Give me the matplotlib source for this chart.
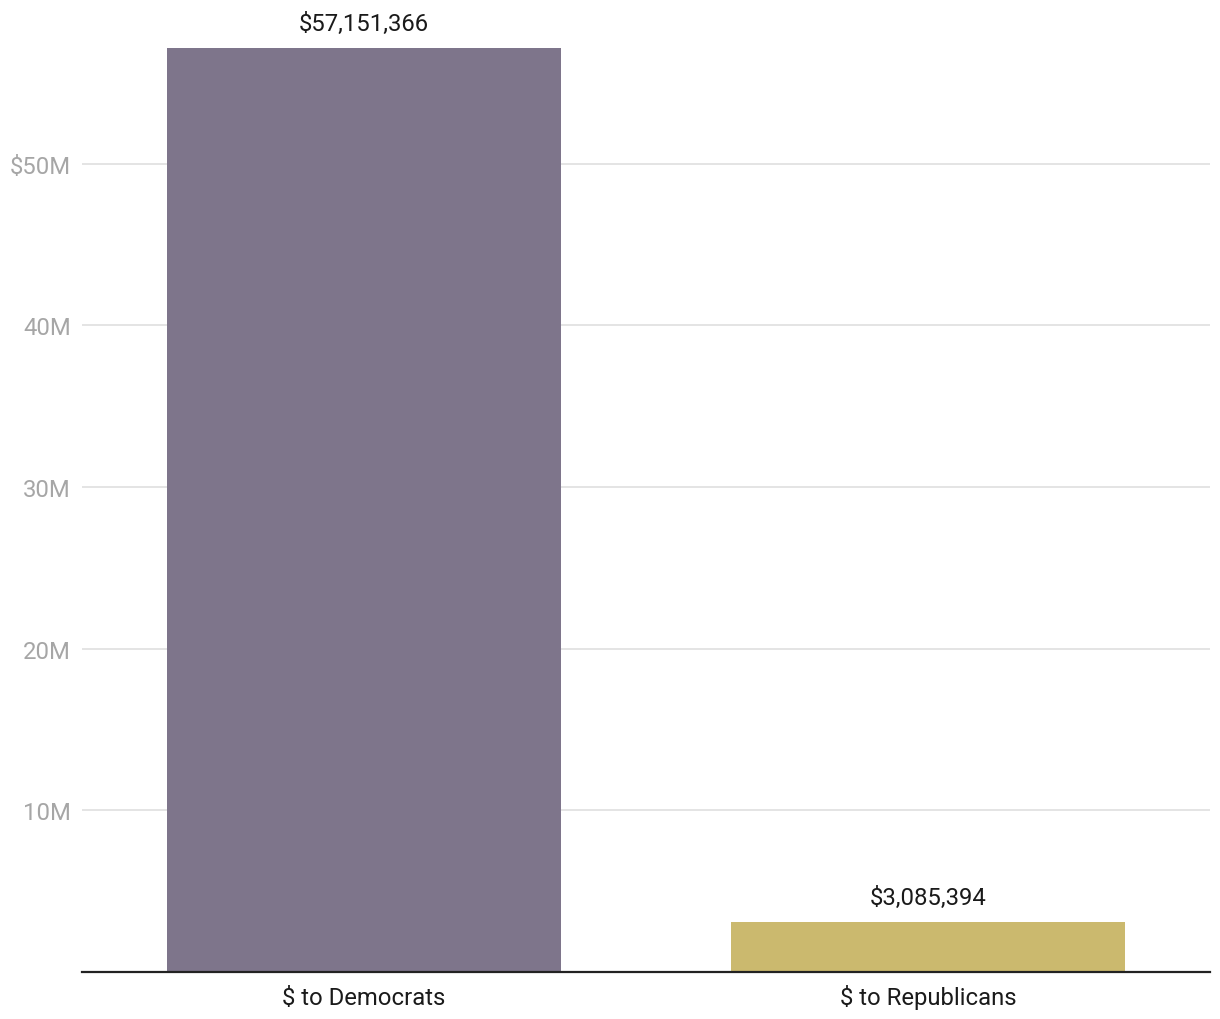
import matplotlib.pyplot as plt

plt.rcParams['font.family'] = ['Roboto', 'DejaVu Sans']

categories = ["$ to Democrats", "$ to Republicans"]
amounts = [57151366, 3085394]
bar_colors = ["#7e758b", "#cbb96e"]
y_ticks = [10e6, 20e6, 30e6, 40e6, 50e6]
y_tick_labels = ["10M", "20M", "30M", "40M", "$50M"]

fig = plt.figure(figsize=(12.2, 10.2), dpi=100)
ax = fig.add_axes([82 / 1220, 47 / 1020, 1128 / 1220, 970 / 1020])

x = range(len(categories))
bars = ax.bar(x, amounts, width=0.7, color=bar_colors, zorder=2)
for b, v in zip(bars, amounts):
    ax.annotate("${:,}".format(v), (b.get_x() + b.get_width() / 2, v),
                xytext=(0, 12.8), textcoords="offset points",
                ha="center", va="baseline", fontsize=17.2, color="#1a1a1a")

# category labels placed by baseline so both line up
for i, name in enumerate(categories):
    ax.annotate(name, xy=(i, 0), xycoords=("data", "axes fraction"),
                xytext=(0, -23.2), textcoords="offset points",
                ha="center", va="baseline", fontsize=17.2, color="#1a1a1a")

ax.set_xlim(-0.5, 1.5)
ax.set_ylim(0, 60e6)
ax.set_xticks([])
ax.set_yticks(y_ticks)
ax.set_yticklabels(y_tick_labels, fontsize=17.2, color="#a6a6a6")
ax.tick_params(axis="y", length=0, pad=8)
ax.grid(axis="y", color="#e2e2e2", linewidth=1.3, zorder=0)

for side in ["top", "right", "left"]:
    ax.spines[side].set_visible(False)
ax.spines["bottom"].set_color("#222222")
ax.spines["bottom"].set_linewidth(1.6)
ax.spines["bottom"].set_zorder(3)

fig.savefig("out.png", dpi=100)
